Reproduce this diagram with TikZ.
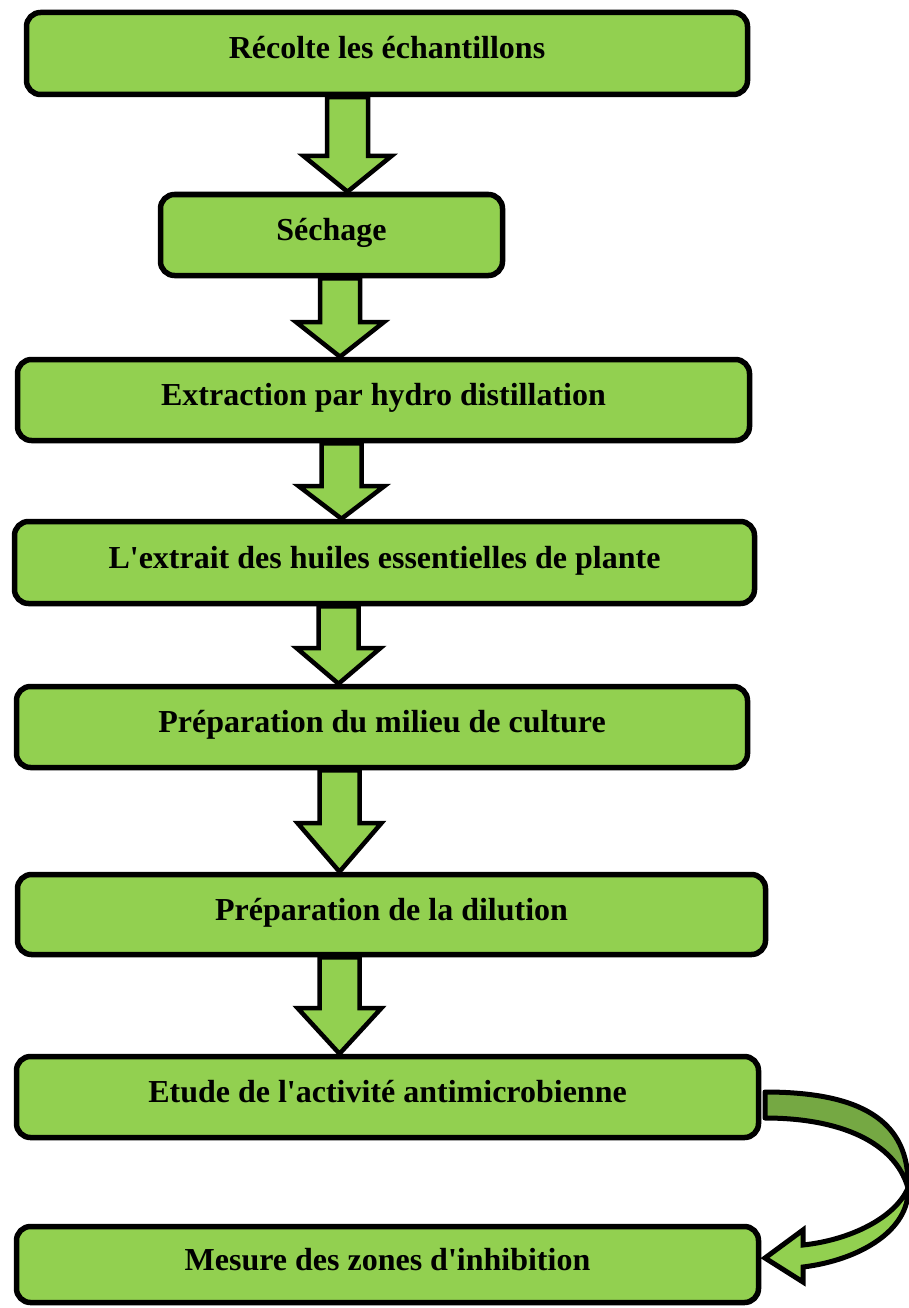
\documentclass[tikz,border=0pt]{standalone}
\usepackage{fontspec}
\setmainfont{Liberation Serif}[Ligatures=TeXOff]
\definecolor{lgreen}{HTML}{92D050}
\definecolor{dgreen}{HTML}{75A843}
\tikzset{
  stepbox/.style={draw=black, line width=5.5pt, fill=lgreen, rounded corners=14pt,
    font=\bfseries\fontsize{32}{38}\selectfont, text height=22pt, text depth=11pt,
    inner sep=0pt, align=center},
  blockarrow/.style={draw=black, line width=4.5pt, fill=lgreen, line join=miter},
  curvedark/.style={draw=black, line width=5pt, fill=dgreen, line join=round},
  curvelight/.style={draw=black, line width=5pt, fill=lgreen, line join=miter},
}
\newcommand{\flowarrow}[6]{%
  \draw[blockarrow] (#3-#4,0 |- #1.south) -- (#3-#4,#6) -- (#3-#5,#6)
    -- (#3,0 |- #2.north) -- (#3+#5,#6) -- (#3+#4,#6) -- (#3+#4,0 |- #1.south) -- cycle;}
\begin{document}
\begin{tikzpicture}[x=1pt,y=-1pt]
\useasboundingbox (0,0) rectangle (909,1308);
\node[stepbox, minimum width=721pt, minimum height=82pt] (b1) at (387,53.5) {Récolte les échantillons};
\node[stepbox, minimum width=342pt, minimum height=81pt] (b2) at (331.5,235) {Séchage};
\node[stepbox, minimum width=732pt, minimum height=81pt] (b3) at (383.5,400) {Extraction par hydro distillation};
\node[stepbox, minimum width=740pt, minimum height=82pt] (b4) at (384.5,562.5) {L'extrait des huiles essentielles de plante};
\node[stepbox, minimum width=731pt, minimum height=81pt] (b5) at (382,727) {Préparation du milieu de culture};
\node[stepbox, minimum width=748pt, minimum height=80pt] (b6) at (391.5,914.5) {Préparation de la dilution};
\node[stepbox, minimum width=742pt, minimum height=81pt] (b7) at (387.5,1097) {Etude de l'activité antimicrobienne};
\node[stepbox, minimum width=742pt, minimum height=76pt] (b8) at (387.5,1264.5) {Mesure des zones d'inhibition};
\flowarrow{b1}{b2}{347.5}{20.5}{44}{156}
\flowarrow{b2}{b3}{340}{20}{44}{322}
\flowarrow{b3}{b4}{341.5}{20}{43}{486}
\flowarrow{b4}{b5}{338.5}{20}{42}{648}
\flowarrow{b5}{b6}{339.5}{20}{42}{823}
\flowarrow{b6}{b7}{339.5}{20}{42}{1008}
\draw[curvedark] (765,1092) .. controls (860,1092) and (910,1120) .. (908,1188)
  .. controls (895,1142) and (840,1118) .. (765,1118) -- cycle;
\draw[curvelight] (908,1188) .. controls (910,1230) and (860,1260) .. (803,1267)
  -- (803,1282) -- (765,1258) -- (803,1230) -- (803,1245)
  .. controls (850,1240) and (895,1218) .. (908,1188) -- cycle;
\end{tikzpicture}
\end{document}
